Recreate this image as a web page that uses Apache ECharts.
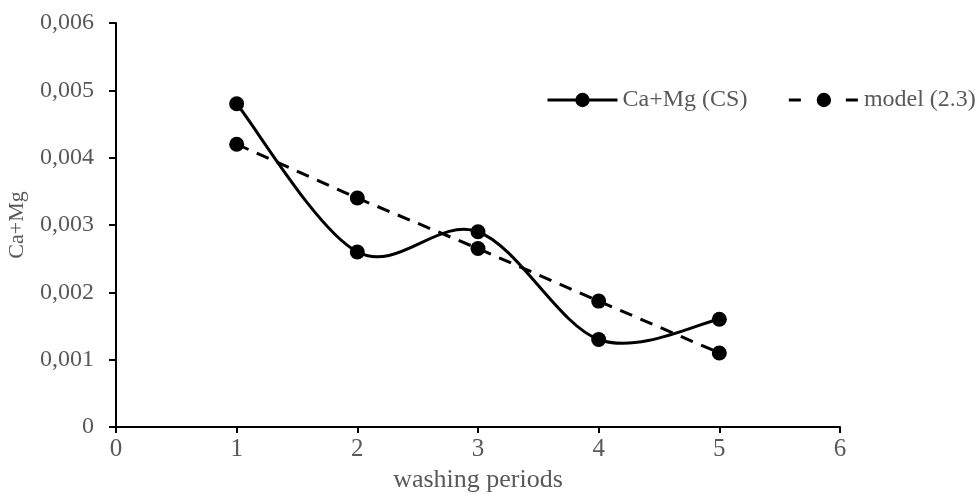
<!DOCTYPE html>
<html>
<head>
<meta charset="utf-8">
<script src="https://cdn.jsdelivr.net/npm/echarts@6/dist/echarts.min.js"></script>
<style>
  html, body { margin: 0; padding: 0; background: #fff; }
  #chart { width: 979px; height: 495px; }
</style>
</head>
<body>
<div id="chart"></div>
<script>
// Washing periods and measured / modelled Ca+Mg concentrations
const periods = [1, 2, 3, 4, 5];
const measuredCS = [0.0048, 0.0026, 0.0029, 0.0013, 0.0016];
const modelValues = [0.0042, 0.0034, 0.00265, 0.00187, 0.0011];
const xTicks = [0, 1, 2, 3, 4, 5, 6];
const yTicks = [0, 0.001, 0.002, 0.003, 0.004, 0.005, 0.006];

const serif = '"Liberation Serif", "Times New Roman", serif';
const textGray = '#595959';

const pairs = (xs, ys) => xs.map((x, i) => [x, ys[i]]);
const csPoints = pairs(periods, measuredCS);

// Smoothed curve through the measured points: one cubic Bezier per segment,
// control points from the neighbouring points (Catmull-Rom, tension 1/6).
function renderSmoothSegment(params, api) {
  const i = params.dataIndex;
  if (i >= csPoints.length - 1) return null;
  const p = csPoints.map(d => api.coord(d));
  const p0 = p[Math.max(i - 1, 0)];
  const p1 = p[i];
  const p2 = p[i + 1];
  const p3 = p[Math.min(i + 2, p.length - 1)];
  return {
    type: 'bezierCurve',
    shape: {
      x1: p1[0], y1: p1[1],
      x2: p2[0], y2: p2[1],
      cpx1: p1[0] + (p2[0] - p0[0]) / 6,
      cpy1: p1[1] + (p2[1] - p0[1]) / 6,
      cpx2: p2[0] - (p3[0] - p1[0]) / 6,
      cpy2: p2[1] - (p3[1] - p1[1]) / 6
    },
    style: { stroke: '#000', lineWidth: 3, fill: null, lineCap: 'round' },
    silent: true
  };
}

const chart = echarts.init(document.getElementById('chart'), null, { renderer: 'canvas' });

chart.setOption({
  animation: false,
  backgroundColor: '#ffffff',
  grid: {
    left: 116, right: 139, top: 23, bottom: 68,
    containLabel: false,
    outerBoundsMode: 'none'
  },
  legend: {
    left: 546,
    top: 88,
    padding: 0,
    itemWidth: 70,
    itemHeight: 18,
    itemGap: 40,
    lineStyle: { width: 3 },
    textStyle: { fontFamily: serif, fontSize: 24, color: textGray, padding: [0, 0, 0, 0] },
    data: [
      { name: 'Ca+Mg (CS)', lineStyle: { opacity: 1, width: 3, color: '#000', type: 'solid' } },
      { name: 'model (2.3)', lineStyle: { opacity: 1, width: 3, color: '#000', type: [12, 45] } }
    ]
  },
  xAxis: {
    type: 'value',
    min: xTicks[0],
    max: xTicks[xTicks.length - 1],
    interval: 1,
    name: 'washing periods',
    nameLocation: 'middle',
    nameGap: 38,
    nameTextStyle: { fontFamily: serif, fontSize: 26, color: textGray },
    axisLine: { show: true, lineStyle: { color: '#000', width: 2 } },
    axisTick: { show: true, length: 6, lineStyle: { color: '#000', width: 2 } },
    axisLabel: { fontFamily: serif, fontSize: 25, color: textGray, margin: 10 },
    splitLine: { show: false }
  },
  yAxis: {
    type: 'value',
    min: yTicks[0],
    max: yTicks[yTicks.length - 1],
    interval: 0.001,
    name: 'Ca+Mg',
    nameLocation: 'middle',
    nameGap: 88,
    nameTextStyle: { fontFamily: serif, fontSize: 22, color: textGray },
    axisLine: { show: true, lineStyle: { color: '#000', width: 2 } },
    axisTick: { show: true, length: 7, lineStyle: { color: '#000', width: 2 } },
    axisLabel: {
      fontFamily: serif, fontSize: 24, color: textGray, margin: 22,
      formatter: v => v === 0 ? '0' : v.toFixed(3).replace('.', ',')
    },
    splitLine: { show: false }
  },
  series: [
    {
      // markers of the measured series (the curve itself is drawn below)
      name: 'Ca+Mg (CS)',
      type: 'line',
      data: csPoints,
      symbol: 'circle',
      symbolSize: 15,
      z: 4,
      itemStyle: { color: '#000' },
      lineStyle: { color: '#000', width: 3, opacity: 0 }
    },
    {
      name: 'model (2.3)',
      type: 'line',
      data: pairs(periods, modelValues),
      symbol: 'circle',
      symbolSize: 15,
      z: 3,
      itemStyle: { color: '#000' },
      lineStyle: { color: '#000', width: 3, type: [13, 9] }
    },
    {
      name: 'Ca+Mg (CS)',
      type: 'custom',
      data: csPoints,
      encode: { x: 0, y: 1 },
      z: 2,
      renderItem: renderSmoothSegment
    }
  ]
});
</script>
</body>
</html>
